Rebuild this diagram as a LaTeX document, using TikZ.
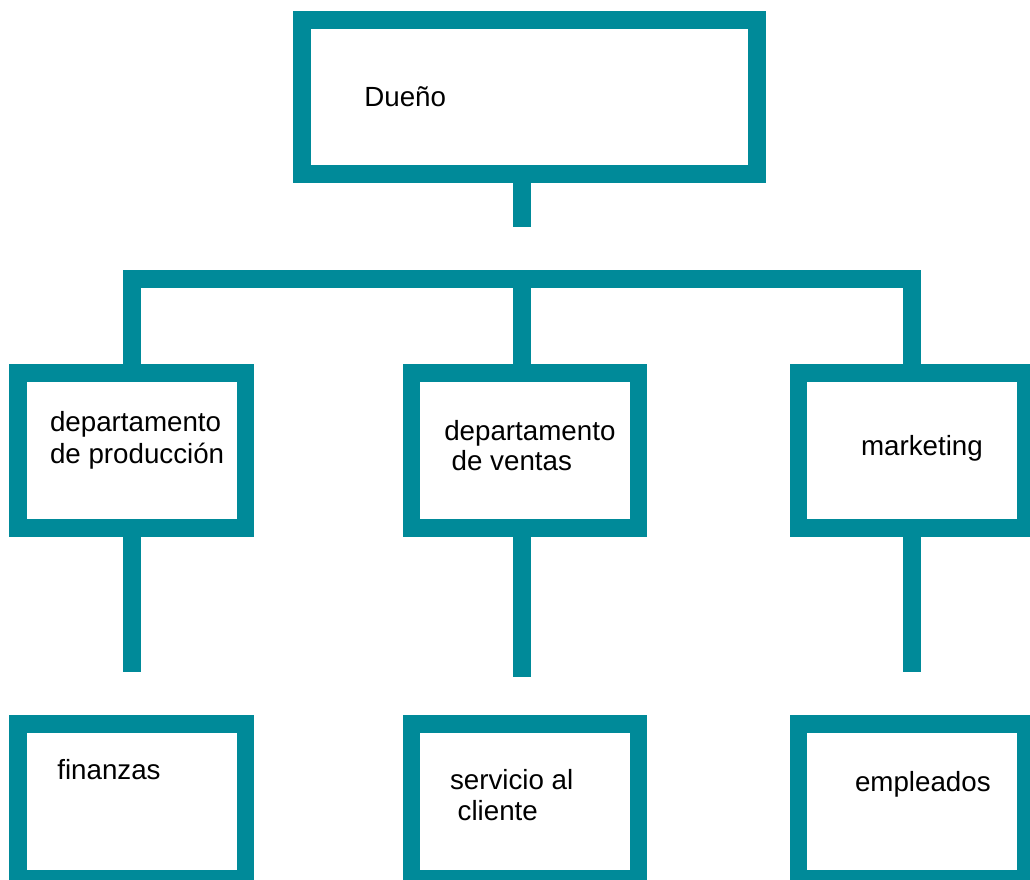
\documentclass[tikz,border=0pt]{standalone}
\usepackage{fontspec}
\setmainfont{Liberation Sans}
\definecolor{teal}{RGB}{0,138,153}
\tikzset{
  box/.style={draw=teal, line width=13.3pt, fill=white, rectangle, inner sep=0pt, outer sep=0pt},
  lvlone/.style={box, minimum width=340.9pt, minimum height=115.8pt},
  lvltwo/.style={box, minimum width=170.4pt, minimum height=115.9pt},
  conn/.style={draw=teal, line width=13.3pt, line cap=butt, line join=miter},
  lbl/.style={anchor=base west, inner sep=0pt, outer sep=0pt, font=\fontsize{20.8pt}{24pt}\selectfont, text=black}
}
\begin{document}
\begin{tikzpicture}[x=0.75pt, y=-0.75pt]
\useasboundingbox (0,0) rectangle (1030,879);
\clip (0,0) rectangle (1030,879);
% boxes
\node[lvlone] (top) at (529.5,97) {};
\node[lvltwo] (pa) at (131.8,450.5) {};
\node[lvltwo] (pb) at (525,450.5) {};
\node[lvltwo] (pc) at (912,450.5) {};
\node[lvltwo] (qa) at (131.8,801.5) {};
\node[lvltwo] (qb) at (525,801.5) {};
\node[lvltwo] (qc) at (912,801.5) {};
% free ends
\coordinate (s0) at (522,227);
\coordinate (barR) at (912,278.7);
\coordinate (barM) at (522,278.7);
\coordinate (ea) at (132,671.7);
\coordinate (eb) at (522,677);
\coordinate (ec) at (912,671.7);
% connectors
\draw[conn] (top.south -| s0) -- (s0);
\draw[conn] (pa.north) |- (barR) -- (pc.north);
\draw[conn] (barM) -- (barM |- pb.north);
\draw[conn] (pa.south -| ea) -- (ea);
\draw[conn] (pb.south -| eb) -- (eb);
\draw[conn] (pc.south -| ec) -- (ec);
% labels
\node[lbl] (t0) at (364.3,106.7) {Dueño};
\node[lbl] (ta1) at (50,431.7) {departamento};
\node[lbl] (ta2) at (50,463.3) {de producción};
\node[lbl] (tb1) at (444.3,440) {departamento};
\node[lbl] (tb2) at (451.7,470.7) {de ventas};
\node[lbl] (tc1) at (861,455) {marketing};
\node[lbl] (ua1) at (57.3,779.3) {finanzas};
\node[lbl] (ub1) at (450,789.3) {servicio al};
\node[lbl] (ub2) at (457.7,820) {cliente};
\node[lbl] (uc1) at (855,791.7) {empleados};
\end{tikzpicture}
\end{document}
